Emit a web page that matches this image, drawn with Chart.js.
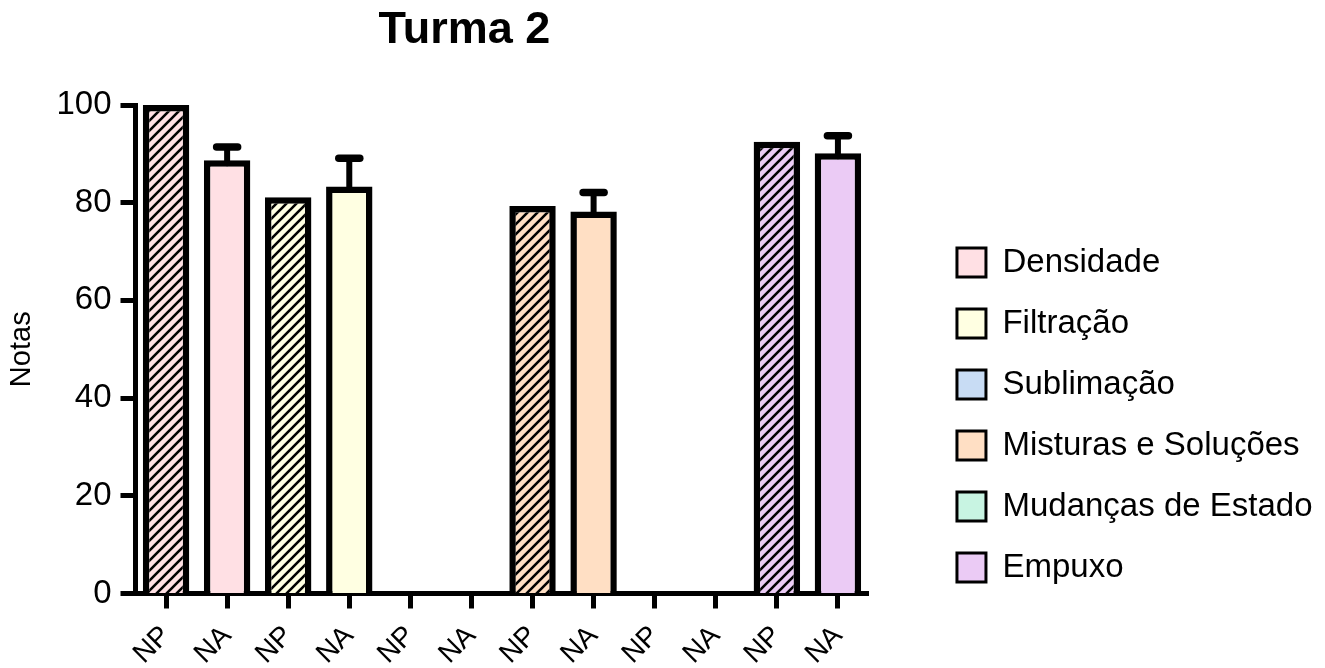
<!DOCTYPE html>
<html lang="pt">
<head>
<meta charset="utf-8">
<title>Turma 2</title>
<script src="https://cdn.jsdelivr.net/npm/chart.js@4.4.1/dist/chart.umd.min.js"></script>
<style>
  html, body { margin: 0; padding: 0; background: #ffffff; }
  #wrap { width: 1325px; height: 668px; }
</style>
</head>
<body>
<div id="wrap"><canvas id="chart" width="1325" height="668"></canvas></div>
<script>
// Grupos no eixo x: NP / NA para cada tema
const categorias = ['NP', 'NA', 'NP', 'NA', 'NP', 'NA', 'NP', 'NA', 'NP', 'NA', 'NP', 'NA'];
// Temas da legenda (um par NP/NA por tema)
const temas = ['Densidade', 'Filtração', 'Sublimação', 'Misturas e Soluções', 'Mudanças de Estado', 'Empuxo'];
// Média das notas por barra (null = sem dados)
const notasMedia = [100, 88.7, 81.1, 83.3, null, null, 79.3, 78.2, null, null, 92.5, 90.1];
// Barra de erro (acima da média)
const notasErro = [0, 2.7, 0, 5.8, null, null, 0, 3.9, null, null, 0, 3.6];
// Cor de cada tema
const coresTemas = ['#FFE0E4', '#FFFFE2', '#C8DCF4', '#FFDFC4', '#C8F4E2', '#EBCBF5'];
// Marcas do eixo y
const yMin = 0, yMax = 100, yPasso = 20;

const FONTE = "'Liberation Sans', Arial, Helvetica, sans-serif";

// Preenchimento hachurado (diagonais "/") para as barras NP
function hachura(cor) {
  const s = 10;
  const c = document.createElement('canvas');
  c.width = s; c.height = s;
  const g = c.getContext('2d');
  g.fillStyle = cor;
  g.fillRect(0, 0, s, s);
  g.strokeStyle = '#000';
  g.lineWidth = 2.6;
  g.beginPath();
  g.moveTo(0, s); g.lineTo(s, 0);
  g.moveTo(-s / 2, s / 2); g.lineTo(s / 2, -s / 2);
  g.moveTo(s / 2, s * 1.5); g.lineTo(s * 1.5, s / 2);
  g.stroke();
  return g.createPattern(c, 'repeat');
}

const fundos = categorias.map((cat, i) => {
  const cor = coresTemas[Math.floor(i / 2)];
  return cat === 'NP' ? hachura(cor) : cor;
});

// Barras de erro com traço horizontal no topo
const barrasErro = {
  id: 'barrasErro',
  afterDatasetsDraw(chart) {
    const meta = chart.getDatasetMeta(0);
    const y = chart.scales.y;
    const ctx = chart.ctx;
    ctx.save();
    ctx.strokeStyle = '#000';
    ctx.lineCap = 'round';
    notasMedia.forEach((v, i) => {
      const e = notasErro[i];
      if (v == null || !e) return;
      const x = meta.data[i].x;
      const y0 = y.getPixelForValue(v);
      const y1 = y.getPixelForValue(v + e);
      ctx.lineWidth = 6;
      ctx.beginPath();
      ctx.moveTo(x, y0 + 3);
      ctx.lineTo(x, y1);
      ctx.stroke();
      ctx.lineWidth = 7.5;
      ctx.beginPath();
      ctx.moveTo(x - 10.5, y1);
      ctx.lineTo(x + 10.5, y1);
      ctx.stroke();
    });
    ctx.restore();
  }
};

// Centraliza o título sobre a região à esquerda da legenda
const tituloCentrado = {
  id: 'tituloCentrado',
  afterLayout(chart) {
    const t = chart.titleBlock;
    if (t && chart.legend) {
      t.left = 0;
      t.right = chart.legend.left;
      t.width = t.right - t.left;
    }
  }
};

new Chart(document.getElementById('chart'), {
  type: 'bar',
  data: {
    labels: categorias,
    datasets: [{
      label: 'Notas',
      data: notasMedia,
      backgroundColor: fundos,
      borderColor: '#000',
      borderWidth: 6.5,
      borderSkipped: 'start',
      barPercentage: 0.76,
      categoryPercentage: 1
    }]
  },
  options: {
    responsive: false,
    animation: false,
    events: [],
    layout: { padding: { left: 0, right: 2.5, top: 0, bottom: 0 } },
    scales: {
      x: {
        offset: true,
        grid: {
          offset: false,
          drawOnChartArea: false,
          drawTicks: true,
          tickLength: 15,
          tickWidth: 5,
          tickColor: '#000'
        },
        border: { display: true, color: '#000', width: 5 },
        ticks: {
          color: '#000',
          font: { family: FONTE, size: 28 },
          minRotation: 45,
          maxRotation: 45,
          autoSkip: false,
          padding: 11
        },
        afterFit(s) { s.height = 74.5; }
      },
      y: {
        min: yMin,
        max: yMax,
        grid: {
          drawOnChartArea: false,
          drawTicks: true,
          tickLength: 15,
          tickWidth: 5,
          tickColor: '#000'
        },
        border: { display: true, color: '#000', width: 5 },
        ticks: {
          stepSize: yPasso,
          color: '#000',
          font: { family: FONTE, size: 33 },
          padding: 9
        },
        title: {
          display: true,
          text: 'Notas',
          color: '#000',
          font: { family: FONTE, size: 29 },
          padding: { top: 5, bottom: 0 }
        },
        afterFit(s) { s.width = 135.5; }
      },
      espaco: {
        type: 'linear',
        position: 'right',
        display: true,
        grid: { display: false },
        border: { display: false },
        ticks: { display: false },
        afterFit(s) { s.width = 60.5; }
      }
    },
    plugins: {
      title: {
        display: true,
        text: 'Turma 2',
        color: '#000',
        font: { family: FONTE, size: 45, weight: 'bold' },
        padding: { top: 4, bottom: 47 }
      },
      legend: {
        display: true,
        position: 'right',
        align: 'center',
        maxWidth: 420,
        title: {
          display: true,
          text: '',
          font: { size: 10, lineHeight: 1 },
          padding: { top: 0, bottom: 152 }
        },
        labels: {
          color: '#000',
          font: { family: FONTE, size: 33 },
          boxWidth: 29,
          boxHeight: 29,
          padding: 28,
          generateLabels: () => temas.map((t, i) => ({
            text: t,
            fillStyle: coresTemas[i],
            strokeStyle: '#000',
            fontColor: '#000',
            lineWidth: 3,
            hidden: false,
            datasetIndex: 0
          }))
        }
      },
      tooltip: { enabled: false }
    }
  },
  plugins: [barrasErro, tituloCentrado]
});
</script>
</body>
</html>
